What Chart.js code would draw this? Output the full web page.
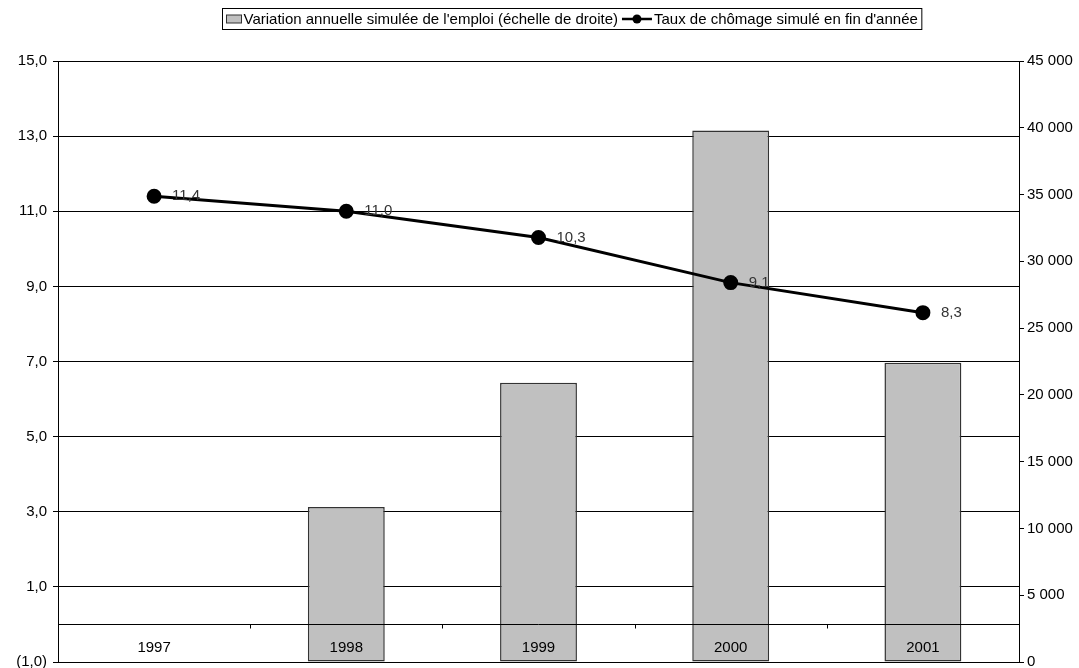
<!DOCTYPE html>
<html>
<head>
<meta charset="utf-8">
<script src="https://cdn.jsdelivr.net/npm/chart.js@4/dist/chart.umd.min.js"></script>
<style>
    html, body { margin: 0; padding: 0; background: #ffffff; overflow: hidden; }
    #wrap { width: 1079px; height: 668px; overflow: hidden; }
</style>
</head>
<body>
<div id="wrap"><canvas id="chart" width="1079" height="671"></canvas></div>
<script>
const years = ['1997', '1998', '1999', '2000', '2001'];
const emploi = [null, 11600, 20900, 39800, 22400];
const chomage = [11.4, 11.0, 10.3, 9.1, 8.3];
const leftTicks = [-1, 1, 3, 5, 7, 9, 11, 13, 15];
const rightTicks = [0, 5000, 10000, 15000, 20000, 25000, 30000, 35000, 40000, 45000];

const FONT = 'Liberation Sans, Arial, sans-serif';
const SIZE = 15;

const fmtRate = v => {
    const s = Math.abs(v).toFixed(1).replace('.', ',');
    return v < 0 ? '(' + s + ')' : s;
};
const fmtThousands = v => String(v).replace(/\B(?=(\d{3})+(?!\d))/g, ' ');

// keep the plot area fixed: no extra room for half tick labels
const noEdgePadding = s => {
    s.paddingTop = 0;
    s.paddingBottom = 0;
};

// category axis crossing at 0 on the left scale, with the year labels underneath
const categoryAxis = {
    id: 'categoryAxis',
    afterDatasetsDraw(chart) {
        const { ctx, chartArea, scales } = chart;
        const y0 = Math.round(scales.y.getPixelForValue(0)) + 0.5;
        const band = (chartArea.right - chartArea.left) / years.length;
        ctx.save();
        ctx.strokeStyle = '#000000';
        ctx.lineWidth = 1;
        ctx.beginPath();
        ctx.moveTo(chartArea.left, y0);
        ctx.lineTo(chartArea.right, y0);
        for (let i = 1; i < years.length; i++) {
            const x = Math.round(chartArea.left + band * i) + 0.5;
            ctx.moveTo(x, y0);
            ctx.lineTo(x, y0 + 4);
        }
        ctx.stroke();
        ctx.fillStyle = '#000000';
        ctx.font = SIZE + 'px ' + FONT;
        ctx.textAlign = 'center';
        ctx.textBaseline = 'middle';
        years.forEach((yr, i) => {
            ctx.fillText(yr, scales.x.getPixelForValue(i), y0 + 23);
        });
        ctx.restore();
    }
};

// value labels to the right of each rate point
const pointLabels = {
    id: 'pointLabels',
    afterDatasetsDraw(chart) {
        const { ctx } = chart;
        const meta = chart.getDatasetMeta(1);
        ctx.save();
        ctx.fillStyle = '#333333';
        ctx.font = SIZE + 'px ' + FONT;
        ctx.textAlign = 'left';
        ctx.textBaseline = 'middle';
        meta.data.forEach((pt, i) => {
            ctx.fillText(fmtRate(chomage[i]), pt.x + 18, pt.y);
        });
        ctx.restore();
    }
};

// boxed legend at the top
const boxLegend = {
    id: 'boxLegend',
    afterDraw(chart) {
        const { ctx } = chart;
        const ds = chart.data.datasets;
        ctx.save();
        ctx.font = SIZE + 'px ' + FONT;
        const w1 = ctx.measureText(ds[0].label).width;
        const w2 = ctx.measureText(ds[1].label).width;
        const total = 4 + 15 + 2 + w1 + 4 + 30 + 2 + w2 + 4;
        const left = Math.round(chart.width / 2 + 32 - total / 2) + 0.5;
        const top = 8.5, h = 21;
        const mid = top + h / 2;
        ctx.strokeStyle = '#000000';
        ctx.lineWidth = 1;
        ctx.strokeRect(left, top, total, h);

        let x = left + 4;
        ctx.fillStyle = '#c0c0c0';
        ctx.fillRect(x, mid - 4, 15, 8);
        ctx.strokeStyle = '#333333';
        ctx.strokeRect(x, mid - 4, 15, 8);
        x += 17;
        ctx.fillStyle = '#000000';
        ctx.textBaseline = 'middle';
        ctx.fillText(ds[0].label, x, mid + 1);
        x += w1 + 4;

        ctx.strokeStyle = '#000000';
        ctx.lineWidth = 2.5;
        ctx.beginPath();
        ctx.moveTo(x, mid);
        ctx.lineTo(x + 30, mid);
        ctx.stroke();
        ctx.beginPath();
        ctx.arc(x + 15, mid, 4.5, 0, Math.PI * 2);
        ctx.fill();
        x += 32;
        ctx.fillText(ds[1].label, x, mid + 1);
        ctx.restore();
    }
};

new Chart(document.getElementById('chart'), {
    data: {
        labels: years,
        datasets: [
            {
                type: 'bar',
                label: "Variation annuelle simulée de l'emploi (échelle de droite)",
                data: emploi,
                yAxisID: 'y1',
                backgroundColor: '#c0c0c0',
                borderColor: '#333333',
                borderWidth: 1.5,
                borderSkipped: false,
                categoryPercentage: 1,
                barPercentage: 0.4,
                order: 2
            },
            {
                type: 'line',
                label: "Taux de chômage simulé en fin d'année",
                data: chomage,
                yAxisID: 'y',
                borderColor: '#000000',
                backgroundColor: '#000000',
                borderWidth: 3,
                pointRadius: 6,
                pointHoverRadius: 6,
                tension: 0,
                order: 1
            }
        ]
    },
    options: {
        responsive: false,
        animation: false,
        layout: { padding: { top: 61, bottom: 3, left: 0, right: 0 } },
        plugins: {
            legend: { display: false },
            tooltip: { enabled: false }
        },
        scales: {
            x: {
                display: false,
                offset: true
            },
            y: {
                position: 'left',
                min: -1,
                max: 15,
                afterBuildTicks: s => { s.ticks = leftTicks.map(v => ({ value: v })); },
                afterFit: s => { s.width = 58; noEdgePadding(s); },
                border: { display: true, color: '#000000', width: 1 },
                grid: {
                    color: '#000000',
                    lineWidth: 1,
                    drawTicks: true,
                    tickLength: 5,
                    tickColor: '#000000'
                },
                ticks: {
                    color: '#000000',
                    font: { family: FONT, size: SIZE },
                    padding: 6,
                    callback: v => fmtRate(v)
                }
            },
            y1: {
                position: 'right',
                min: 0,
                max: 45000,
                afterBuildTicks: s => { s.ticks = rightTicks.map(v => ({ value: v })); },
                afterFit: s => { s.width = 60; noEdgePadding(s); },
                border: { display: true, color: '#000000', width: 1 },
                grid: {
                    drawOnChartArea: false,
                    drawTicks: true,
                    tickLength: 5,
                    tickColor: '#000000'
                },
                ticks: {
                    color: '#000000',
                    font: { family: FONT, size: SIZE },
                    padding: 3,
                    callback: v => fmtThousands(v)
                }
            }
        }
    },
    plugins: [categoryAxis, pointLabels, boxLegend]
});
</script>
</body>
</html>
